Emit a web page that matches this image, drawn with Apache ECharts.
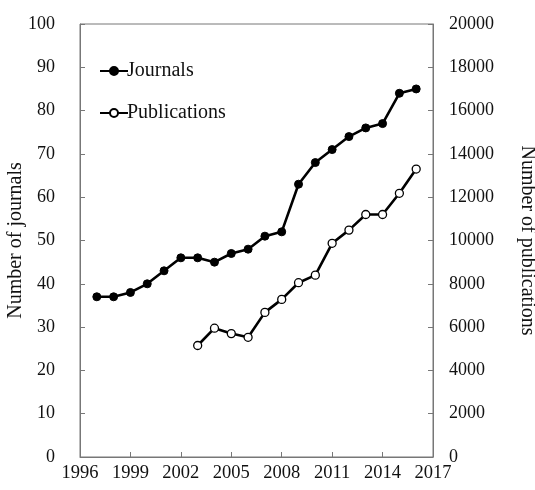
<!DOCTYPE html>
<html>
<head>
<meta charset="utf-8">
<script src="https://cdn.jsdelivr.net/npm/echarts@6/dist/echarts.min.js"></script>
<style>
  html, body { margin: 0; padding: 0; background: #fff; }
  #main { width: 535px; height: 490px; }
</style>
</head>
<body>
<div id="main"></div>
<script>
// years on the x axis (1996..2017), labels every 3rd
const years = ['1996', '1997', '1998', '1999', '2000', '2001', '2002', '2003', '2004', '2005', '2006',
  '2007', '2008', '2009', '2010', '2011', '2012', '2013', '2014', '2015', '2016', '2017']
// number of journals per year
const journals = [null, 37, 37, 38, 40, 43, 46, 46, 45, 47, 48,
  51, 52, 63, 68, 71, 74, 76, 77, 84, 85, null]
// number of publications per year (starts 2003)
const publications = [null, null, null, null, null, null, null, 5150, 5950, 5700, 5530,
  6680, 7280, 8050, 8400, 9870, 10480, 11200, 11200, 12180, 13300, null]

const axisGrey = '#777'
const font = 'Liberation Serif'

const myChart = echarts.init(document.getElementById('main'))
const option = {
  backgroundColor: '#fff',
  textStyle: { fontFamily: font },
  grid: {
    left: 80,
    right: 102,
    top: 24,
    bottom: 33,
    outerBoundsMode: 'none',
    containLabel: false,
    show: true,
    borderColor: axisGrey,
    borderWidth: 1,
  },
  legend: {
    orient: 'vertical',
    left: 94,
    top: 56,
    itemWidth: 28,
    itemHeight: 10,
    itemGap: 22,
    textStyle: { fontFamily: font, fontSize: 20, color: '#111', padding: [0, 0, 0, -6] },
    data: ['Journals', 'Publications'],
  },
  xAxis: {
    type: 'category',
    data: years,
    boundaryGap: false,
    axisLine: { lineStyle: { color: axisGrey } },
    axisTick: { inside: true, length: 5, interval: 2, lineStyle: { color: axisGrey } },
    axisLabel: { interval: 2, color: '#111', fontSize: 18.5, fontFamily: font, margin: 7 },
    splitLine: { show: false },
  },
  yAxis: [
    {
      type: 'value',
      min: 0,
      max: 100,
      interval: 10,
      name: 'Number of journals',
      nameLocation: 'middle',
      nameGap: 54,
      nameMoveOverlap: false,
      nameTextStyle: { fontFamily: font, fontSize: 20, color: '#111' },
      axisLine: { show: true, lineStyle: { color: axisGrey } },
      axisTick: { show: true, inside: true, length: 5, lineStyle: { color: axisGrey } },
      axisLabel: { color: '#111', fontSize: 18, fontFamily: font, margin: 25 },
      splitLine: { show: false },
    },
    {
      type: 'value',
      min: 0,
      max: 20000,
      interval: 2000,
      position: 'right',
      name: 'Number of publications',
      nameLocation: 'middle',
      nameRotate: -90,
      nameGap: 84,
      nameMoveOverlap: false,
      nameTextStyle: { fontFamily: font, fontSize: 20, color: '#111' },
      axisLine: { show: true, lineStyle: { color: axisGrey } },
      axisTick: { show: true, inside: true, length: 5, lineStyle: { color: axisGrey } },
      axisLabel: { color: '#111', fontSize: 18, fontFamily: font, margin: 16, formatter: (v) => String(v) },
      splitLine: { show: false },
    },
  ],
  series: [
    {
      name: 'Journals',
      type: 'line',
      yAxisIndex: 0,
      data: journals,
      symbol: 'circle',
      symbolSize: 8,
      showAllSymbol: true,
      lineStyle: { color: '#000', width: 2.6 },
      itemStyle: { color: '#000', borderColor: '#000', borderWidth: 1 },
    },
    {
      name: 'Publications',
      type: 'line',
      yAxisIndex: 1,
      data: publications,
      symbol: 'circle',
      symbolSize: 8,
      showAllSymbol: true,
      lineStyle: { color: '#000', width: 2.6 },
      itemStyle: { color: '#fff', borderColor: '#000', borderWidth: 1.3 },
    },
  ],
}
myChart.setOption(option)
</script>
</body>
</html>
